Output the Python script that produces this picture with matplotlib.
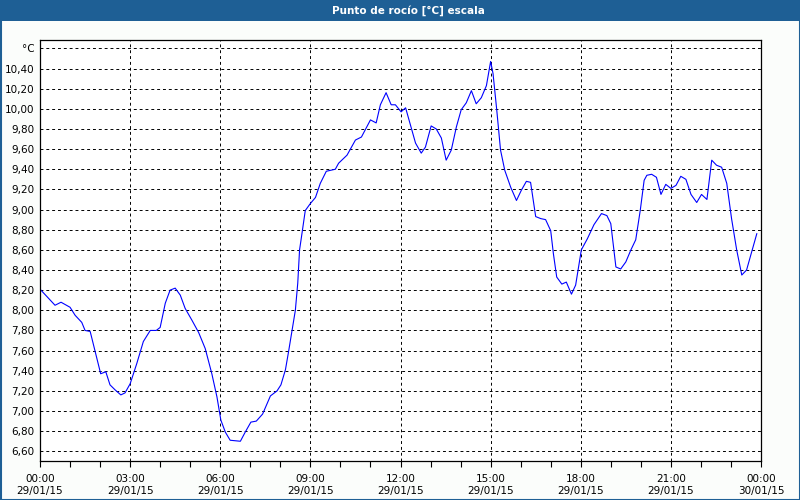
import matplotlib
matplotlib.use("Agg")
import matplotlib.pyplot as plt
import matplotlib.dates as mdates
import matplotlib.ticker as mticker
from matplotlib.patches import Rectangle
import pandas as pd

title = "Punto de rocío [°C] escala"
unit_label = "°C"
start_day = "2015-01-29"

hours = [0.0, 0.5, 0.7, 1.0, 1.17, 1.39, 1.5, 1.67, 1.83, 2.02, 2.19, 2.33, 2.5, 2.69, 2.83,
         3.0, 3.22, 3.44, 3.67, 3.87, 4.0, 4.17, 4.33, 4.5, 4.67, 4.83, 5.06, 5.28, 5.5,
         5.72, 5.89, 6.02, 6.17, 6.33, 6.67, 6.83, 7.02, 7.2, 7.41, 7.67, 7.89, 8.02, 8.17,
         8.28, 8.39, 8.5, 8.58, 8.64, 8.69, 8.83, 9.0, 9.17, 9.33, 9.53, 9.83, 9.94, 10.22,
         10.5, 10.7, 11.0, 11.19, 11.33, 11.52, 11.69, 11.83, 12.02, 12.17, 12.33, 12.5,
         12.69, 12.83, 13.02, 13.19, 13.36, 13.52, 13.69, 13.86, 14.02, 14.19, 14.36, 14.52,
         14.69, 14.86, 15.0, 15.08, 15.2, 15.33, 15.47, 15.67, 15.86, 16.02, 16.19, 16.33,
         16.5, 16.67, 16.83, 17.0, 17.09, 17.2, 17.37, 17.52, 17.69, 17.83, 18.02, 18.22,
         18.44, 18.69, 18.87, 19.0, 19.17, 19.33, 19.5, 19.67, 19.83, 19.98, 20.11, 20.2,
         20.36, 20.52, 20.67, 20.83, 21.0, 21.17, 21.33, 21.5, 21.67, 21.86, 22.02, 22.2,
         22.36, 22.52, 22.69, 22.86, 23.02, 23.19, 23.36, 23.52, 23.69, 23.86]
dew_point = [8.21, 8.05, 8.08, 8.03, 7.95, 7.88, 7.80, 7.79, 7.60, 7.37, 7.39, 7.26, 7.21, 7.16,
             7.18, 7.27, 7.47, 7.69, 7.80, 7.80, 7.83, 8.07, 8.20, 8.22, 8.15, 8.02, 7.90, 7.78,
             7.62, 7.37, 7.14, 6.91, 6.79, 6.71, 6.70, 6.79, 6.89, 6.90, 6.97, 7.15, 7.20, 7.26,
             7.41, 7.60, 7.80, 8.00, 8.27, 8.60, 8.70, 8.99, 9.06, 9.12, 9.26, 9.38, 9.40, 9.46,
             9.54, 9.69, 9.72, 9.89, 9.86, 10.04, 10.16, 10.04, 10.04, 9.97, 10.01, 9.84, 9.66,
             9.56, 9.62, 9.83, 9.80, 9.71, 9.49, 9.59, 9.82, 9.99, 10.06, 10.18, 10.05, 10.11,
             10.23, 10.47, 10.35, 10.00, 9.59, 9.39, 9.22, 9.09, 9.19, 9.28, 9.27, 8.93, 8.91,
             8.90, 8.79, 8.56, 8.33, 8.26, 8.28, 8.16, 8.25, 8.60, 8.71, 8.85, 8.96, 8.94, 8.86,
             8.43, 8.41, 8.48, 8.60, 8.70, 8.99, 9.29, 9.34, 9.35, 9.32, 9.15, 9.25, 9.21, 9.24,
             9.33, 9.30, 9.15, 9.07, 9.15, 9.10, 9.49, 9.44, 9.42, 9.26, 8.91, 8.60, 8.35, 8.40,
             8.58, 8.76]
y_ticks = [6.6, 6.8, 7.0, 7.2, 7.4, 7.6, 7.8, 8.0, 8.2, 8.4, 8.6, 8.8, 9.0, 9.2, 9.4, 9.6,
           9.8, 10.0, 10.2, 10.4, 10.6]

base = pd.Timestamp(start_day)
times = [base + pd.Timedelta(hours=h) for h in hours]

BLUE_BAR = "#1e5f95"
fig = plt.figure(figsize=(8, 5), dpi=100, facecolor="#fbfdfb")

# title bar and border
fig.patches.append(Rectangle((0, 1 - 21 / 500), 1, 21 / 500, transform=fig.transFigure,
                             facecolor=BLUE_BAR, edgecolor="none", zorder=0))
fig.patches.append(Rectangle((0.5 / 800, 0.5 / 500), 1 - 1 / 800, 1 - 1 / 500, transform=fig.transFigure,
                             facecolor="none", edgecolor=BLUE_BAR, linewidth=1.5, zorder=0))
fig.text(0.511, 1 - 10.5 / 500, title, color="white", fontsize=7.5, fontweight="bold",
         ha="center", va="center")

ax = fig.add_axes([40 / 800, 1 - 461 / 500, 721 / 800, 421 / 500])
ax.set_facecolor("white")
ax.plot(times, dew_point, color="#0000ff", linewidth=0.8)

ax.set_xlim(base, base + pd.Timedelta(hours=24))
ax.set_ylim(6.504, 10.683)

ax.xaxis.set_major_locator(mdates.HourLocator(byhour=range(0, 24, 3)))
ax.xaxis.set_minor_locator(mdates.HourLocator())
ax.xaxis.set_major_formatter(mdates.DateFormatter("%H:%M\n%d/%m/%y"))

ax.set_yticks(y_ticks)
ax.yaxis.set_major_formatter(mticker.FuncFormatter(
    lambda v, p: unit_label if abs(v - 10.6) < 1e-6 else f"{v:.2f}".replace(".", ",")))

ax.grid(True, which="major", color="black", linestyle=(0, (3, 3)), linewidth=0.7)
ax.tick_params(axis="y", length=0, pad=4, labelsize=7.5, colors="black")
ax.tick_params(axis="x", which="major", length=4, pad=5, labelsize=7.5, width=0.8)
ax.tick_params(axis="x", which="minor", length=4, width=0.8)
for lab in ax.get_xticklabels():
    lab.set_linespacing(1.3)
for s in ax.spines.values():
    s.set_color("black")
    s.set_linewidth(0.9)

fig.savefig("out.png", dpi=100, facecolor=fig.get_facecolor())
